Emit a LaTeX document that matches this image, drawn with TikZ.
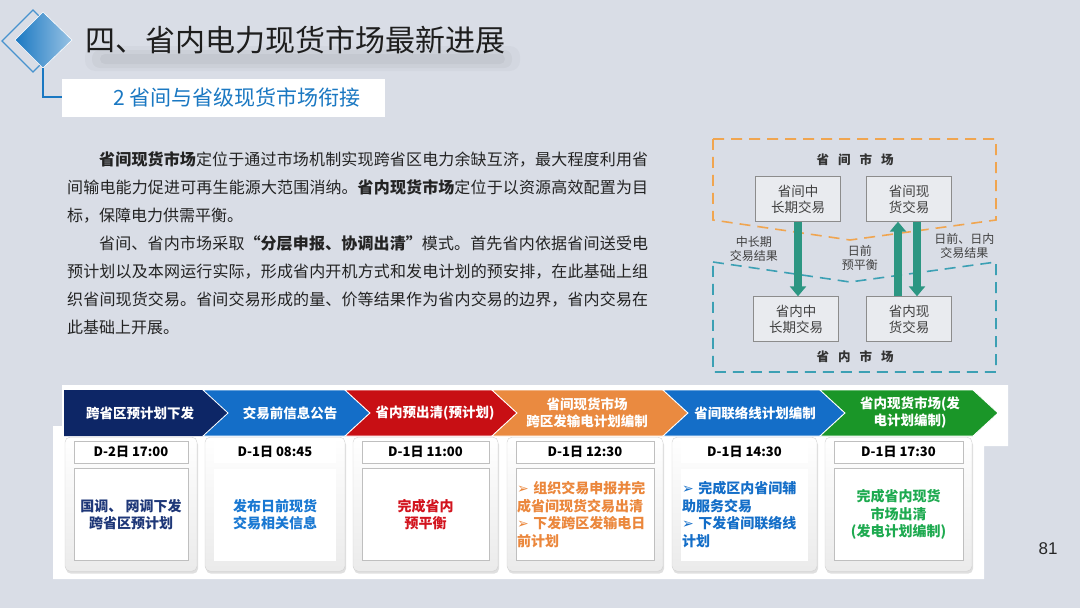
\documentclass[tikz,border=0pt]{standalone}
\usepackage{fontspec}
\usepackage{xcolor}
\usepackage{tikz}
\usetikzlibrary{arrows.meta,positioning,shadows}
\setmainfont{Noto Sans CJK SC}
\newfontfamily\arrowfont{DejaVu Sans}
\newfontfamily\numfont{Liberation Sans}
\XeTeXlinebreaklocale "zh"
\XeTeXlinebreakskip=0pt plus 1pt

\definecolor{bgc}{RGB}{217,221,230}
\definecolor{titlec}{RGB}{30,30,30}
\definecolor{accent}{RGB}{26,120,194}
\definecolor{bodyc}{RGB}{35,35,35}
\definecolor{interc}{RGB}{240,165,80}
\definecolor{provc}{RGB}{60,160,180}
\definecolor{flowc}{RGB}{44,150,130}
\definecolor{mktfill}{RGB}{233,235,239}
\definecolor{mktborder}{RGB}{140,140,140}
\definecolor{navyc}{RGB}{13,38,102}
\definecolor{bluec}{RGB}{20,110,200}
\definecolor{redc}{RGB}{200,15,20}
\definecolor{orangec}{RGB}{234,138,64}
\definecolor{greenc}{RGB}{26,150,40}
\definecolor{navytext}{RGB}{30,55,120}
\definecolor{bluetext}{RGB}{25,120,210}
\definecolor{redtext}{RGB}{210,20,30}
\definecolor{orangetext}{RGB}{235,135,60}
\definecolor{greentext}{RGB}{30,170,80}

\begin{document}
\begin{tikzpicture}[
    x=1pt, y=-1pt,
    heading/.style={
        font=\fontsize{30}{34}\selectfont,
        text=titlec,
        anchor=west,
        inner sep=0pt
    },
    subhead/.style={
        font=\fontsize{21}{24}\selectfont,
        text=accent,
        anchor=west,
        inner sep=0pt
    },
    para/.style={
        text width=581pt,
        align=justify,
        font=\fontsize{16}{28}\selectfont,
        text=bodyc,
        inner sep=0pt,
        anchor=north west
    },
    mbox/.style={
        draw=mktborder,
        fill=mktfill,
        minimum width=85pt,
        minimum height=45pt,
        align=center,
        font=\fontsize{13.5}{16}\selectfont,
        text=black!75,
        inner sep=2pt
    },
    mktlab/.style={
        font=\bfseries\fontsize{12.5}{14}\selectfont,
        text=black!80
    },
    flowlab/.style={
        font=\fontsize{12}{14}\selectfont,
        text=black!75,
        align=center,
        inner sep=1pt
    },
    fat/.style={draw=flowc, line width=8.5pt, -{Triangle[width=16pt,length=10pt]}},
    border/.style={line width=1.6pt, dash pattern=on 11pt off 7pt},
    chevlab/.style={
        font=\bfseries\fontsize{13.5}{17}\selectfont,
        text=white,
        align=center
    },
    card/.style={
        draw=black!18,
        rounded corners=5pt,
        top color=white,
        bottom color=black!8,
        minimum width=#1,
        minimum height=134pt,
        anchor=north,
        drop shadow={opacity=0.25, shadow xshift=1pt, shadow yshift=-2.5pt}
    },
    timebox/.style={
        draw=black!25,
        fill=white,
        minimum height=22pt,
        font=\bfseries\fontsize{13}{15}\selectfont,
        inner sep=0pt
    },
    taskbox/.style={
        draw=black!25,
        fill=white,
        minimum height=92pt,
        font=\bfseries\fontsize{14}{17.5}\selectfont,
        inner sep=1pt
    }
]

% ---- Background ----
\fill[bgc] (0,0) rectangle (1080,608);
\useasboundingbox (0,0) rectangle (1080,608);

% ---- Header ----
\fill[black, opacity=0.025, rounded corners=10pt] (85,46) rectangle (520,71);
\fill[black, opacity=0.03, rounded corners=8pt] (92,50) rectangle (512,68);
\fill[black, opacity=0.035, rounded corners=5pt] (100,54) rectangle (505,64);
\draw[accent!80, line width=1.2pt] (2,41) -- (33,10) -- (64,41) -- (33,72) -- cycle;
\shade[left color=accent, right color=accent!45, draw=white, line width=0.6pt] (15,40) -- (43,12) -- (72,40) -- (43,68) -- cycle;
\draw[accent, line width=2pt] (43,68) -- (43,97) -- (62,97);
\node[heading] (title) at (85,40) {四、省内电力现货市场最新进展};
\node[fill=white, minimum width=323pt, minimum height=38pt, anchor=west, inner sep=0pt] (subbox) at (62,98) {};
\node[subhead] (subtitle) at (113,97) {2 省间与省级现货市场衔接};

% ---- Text ----
\node[para] (text) at (67,151) {%
\hspace*{2em}\textbf{省间现货市场}定位于通过市场机制实现跨省区电力余缺互济，最大程度利用省\linebreak
间输电能力促进可再生能源大范围消纳。\textbf{省内现货市场}定位于以资源高效配置为目\linebreak
标，保障电力供需平衡。\par
\hspace*{2em}省间、省内市场采取\textbf{“分层申报、协调出清”}模式。首先省内依据省间送受电\linebreak
预计划以及本网运行实际，形成省内开机方式和发电计划的预安排，在此基础上组\linebreak
织省间现货交易。省间交易形成的量、价等结果作为省内交易的边界，省内交易在\linebreak
此基础上开展。};

% ---- Market diagram ----
\draw[interc, border] (713,139) -- (996,139) -- (996,220) -- (850,240) -- (713,220) -- cycle;
\draw[provc, border] (713,262) -- (850,282) -- (996,262) -- (996,372) -- (713,372) -- cycle;

\node[mktlab] (intermkt) at (855,160) {省\hspace{9pt}间\hspace{9pt}市\hspace{9pt}场};
\node[mktlab] (provmkt) at (855,357) {省\hspace{9pt}内\hspace{9pt}市\hspace{9pt}场};

\node[mbox] (interlong) at (798,199) {省间中\\长期交易};
\node[mbox] (interspot) at (909,199) {省间现\\货交易};
\node[mbox] (provlong) at (796,319) {省内中\\长期交易};
\node[mbox] (provspot) at (909,319) {省内现\\货交易};

\draw[fat] (interlong.south) -- node[flowlab, left=15pt, pos=0.36] (longres) {中长期\\交易结果} (interlong.south |- provlong.north);
\draw[fat] ([xshift=-11pt]provspot.north) -- node[flowlab, left=15pt, pos=0.52] (prebal) {日前\\预平衡} ([xshift=-11pt]provspot.north |- interspot.south);
\draw[fat] ([xshift=8pt]interspot.south) -- node[flowlab, right=12pt, pos=0.33] (spotres) {日前、日内\\交易结果} ([xshift=8pt]interspot.south |- provspot.north);

% ---- Timeline ----
\fill[white] (62,385) -- (1008,385) -- (1008,446) -- (984,446) -- (984,579) -- (53,579) -- (53,426) -- (62,426) -- cycle;

\fill[navyc] (64,390) -- (203,390) -- (228,413) -- (203,436) -- (64,436) -- cycle;
\filldraw[bluec, draw=white, line width=0.8pt] (203,390) -- (345,390) -- (370,413) -- (345,436) -- (203,436) -- (228,413) -- cycle;
\filldraw[redc, draw=white, line width=0.8pt] (345,390) -- (492,390) -- (517,413) -- (492,436) -- (345,436) -- (370,413) -- cycle;
\filldraw[orangec, draw=white, line width=0.8pt] (492,390) -- (663,390) -- (688,413) -- (663,436) -- (492,436) -- (517,413) -- cycle;
\filldraw[bluec, draw=white, line width=0.8pt] (663,390) -- (820,390) -- (845,413) -- (820,436) -- (663,436) -- (688,413) -- cycle;
\filldraw[greenc, draw=white, line width=0.8pt] (820,390) -- (973,390) -- (998,413) -- (973,436) -- (820,436) -- (845,413) -- cycle;

\node[chevlab] (issue) at (140,413) {跨省区预计划下发};
\node[chevlab] (notice) at (290,413) {交易前信息公告};
\node[chevlab] (preclear) at (435,413) {省内预出清(预计划)};
\node[chevlab] (crossplan) at (587,413) {省间现货市场\\跨区发输电计划编制};
\node[chevlab] (tieline) at (755,413) {省间联络线计划编制};
\node[chevlab] (provclear) at (910,413) {省内现货市场(发\\电计划编制)};

% ---- Cards ----
\node[card=132pt] (card1) at (131,437) {};
\node[card=140pt] (card2) at (275,437) {};
\node[card=145pt] (card3) at (425.5,437) {};
\node[card=156pt] (card4) at (585,437) {};
\node[card=145pt] (card5) at (744.5,437) {};
\node[card=147pt] (card6) at (898.5,437) {};

\node[timebox, minimum width=114pt, below=4pt of card1.north] (time1) {D-2日 17:00};
\node[timebox, minimum width=122pt, below=4pt of card2.north, draw=none] (time2) {D-1日 08:45};
\node[timebox, minimum width=127pt, below=4pt of card3.north] (time3) {D-1日 11:00};
\node[timebox, minimum width=138pt, below=4pt of card4.north] (time4) {D-1日 12:30};
\node[timebox, minimum width=127pt, below=4pt of card5.north, draw=none] (time5) {D-1日 14:30};
\node[timebox, minimum width=129pt, below=4pt of card6.north] (time6) {D-1日 17:30};

\node[taskbox, minimum width=114pt, below=5pt of time1, text=navytext, align=center] (task1) {国调、 网调下发\\跨省区预计划};
\node[taskbox, minimum width=122pt, below=5pt of time2, text=bluetext, align=center, draw=none] (task2) {发布日前现货\\交易相关信息};
\node[taskbox, minimum width=127pt, below=5pt of time3, text=redtext, align=center] (task3) {完成省内\\预平衡};
\node[taskbox, minimum width=138pt, text width=136pt, below=5pt of time4, text=orangetext, align=left] (task4) {{\arrowfont ➢} 组织交易申报并完\\成省间现货交易出清\\{\arrowfont ➢} 下发跨区发输电日\\前计划};
\node[taskbox, minimum width=127pt, text width=125pt, below=5pt of time5, text=bluec, align=left, draw=none] (task5) {{\arrowfont ➢} 完成区内省间辅\\助服务交易\\{\arrowfont ➢} 下发省间联络线\\计划};
\node[taskbox, minimum width=129pt, below=5pt of time6, text=greentext, align=center] (task6) {完成省内现货\\市场出清\\(发电计划编制)};

% ---- Page number ----
\node[font=\numfont\fontsize{17}{20}\selectfont, text=black!85] (pageno) at (1048,549) {81};

\end{tikzpicture}
\end{document}
